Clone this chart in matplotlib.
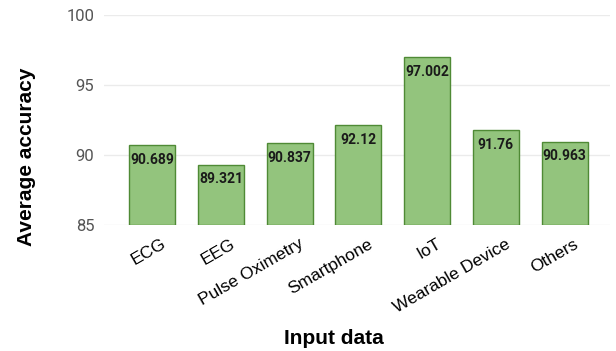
import numpy as np
import matplotlib
matplotlib.use("Agg")
import matplotlib.pyplot as plt
from matplotlib.transforms import ScaledTranslation

categories = ["ECG", "EEG", "Pulse Oximetry", "Smartphone", "IoT", "Wearable Device", "Others"]
accuracy = [90.689, 89.321, 90.837, 92.12, 97.002, 91.76, 90.963]
value_labels = ["90.689", "89.321", "90.837", "92.12", "97.002", "91.76", "90.963"]
yticks = [85, 90, 95, 100]

fig = plt.figure(figsize=(6.16, 3.51), dpi=100)
ax = fig.add_axes([104/616, 1 - 225/351, 506/616, 210/351])

x = np.arange(len(categories))
base = 85
bars = ax.bar(x, np.array(accuracy) - base, bottom=base, width=0.67,
              color="#93c47d", edgecolor="#4f8a35", linewidth=1.0, zorder=3)

for xi, v, lab in zip(x, accuracy, value_labels):
    ax.annotate(lab, (xi, v), xytext=(0, -5.5), textcoords="offset points",
                ha="center", va="top", fontsize=10, fontweight="bold",
                color="#1a1a1a", family="Roboto", zorder=4)

ax.set_xlim(-0.70, 6.66)
ax.set_ylim(85, 100)
ax.set_yticks(yticks)
ax.set_yticklabels([str(t) for t in yticks], fontsize=12, color="#555555",
                   family="Roboto")
ax.grid(axis="y", color="#ebebeb", linewidth=1.0, zorder=0)
ax.tick_params(axis="both", length=0)
ax.tick_params(axis="y", pad=7)
for s in ax.spines.values():
    s.set_visible(False)

ax.set_xticks(x)
ax.set_xticklabels(categories, rotation=30, ha="right", rotation_mode="anchor",
                   fontsize=12.5, color="#000000", family="Liberation Sans")
ax.tick_params(axis="x", pad=8)
shift = ScaledTranslation(9/100, 0, fig.dpi_scale_trans)
for lbl in ax.get_xticklabels():
    lbl.set_transform(lbl.get_transform() + shift)

fig.text(334/616, 1 - 338/351, "Input data", ha="center", va="center",
         fontsize=15, fontweight="bold", family="Liberation Sans")
fig.text(27/616, 1 - 157/351, "Average accuracy", ha="center", va="center",
         rotation=90, fontsize=15, fontweight="bold", family="Liberation Sans")

fig.savefig("out.png", dpi=100)
